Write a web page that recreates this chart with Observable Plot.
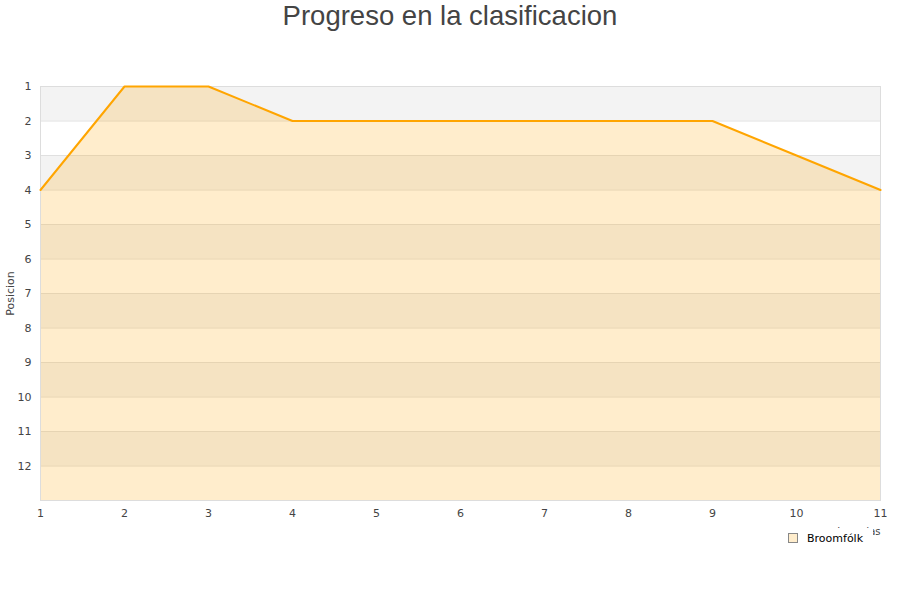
<!DOCTYPE html>
<html>
<head>
<meta charset="utf-8">
<script src="https://cdn.jsdelivr.net/npm/d3@7"></script>
<script src="https://cdn.jsdelivr.net/npm/@observablehq/plot@0.6"></script>
<style>
  body { margin: 0; background: #fff; }
  #wrap { position: relative; width: 900px; height: 600px; font-family: "DejaVu Sans", sans-serif; }
  #title { position: absolute; top: 0; left: 0; width: 900px; text-align: center; font-family: "Liberation Sans", Arial, sans-serif; font-size: 27.5px; color: #444; line-height: 32px; }
  #legend { position: absolute; left: 783px; top: 528px; width: 90px; height: 20px; background: #fff; font-size: 11px; color: #000; display: flex; align-items: center; }
  #legend .sw { width: 8px; height: 8px; background: #ffedcc; border: 1px solid #888; margin-left: 5px; margin-right: 9px; }
</style>
</head>
<body>
<div id="wrap">
  <div id="title">Progreso en la clasificacion</div>
  <div id="chart"></div>
  <div id="legend"><span class="sw"></span><span>Broomfólk</span></div>
</div>
<script>
const jornadas = [1, 2, 3, 4, 5, 6, 7, 8, 9, 10, 11];
const posiciones = [4, 1, 1, 2, 2, 2, 2, 2, 2, 3, 4];
const yTicks = [1, 2, 3, 4, 5, 6, 7, 8, 9, 10, 11, 12];
const team = "Broomfólk";
const xLabel = "Jornadas";
const yLabel = "Posicion";

const data = jornadas.map((j, i) => ({ j, pos: posiciones[i] }));
const bands = yTicks.filter(t => t % 2 === 1).map(t => ({ y1: t, y2: t + 1 }));

const chart = Plot.plot({
  width: 900,
  height: 600,
  marginTop: 86,
  marginLeft: 40,
  marginRight: 20,
  marginBottom: 100,
  style: { fontFamily: "DejaVu Sans, sans-serif", fontSize: "11px", color: "#444", background: "transparent" },
  x: { domain: [1, 11] },
  y: { domain: [1, 13], reverse: true },
  marks: [
    Plot.rect(bands, { x1: 1, x2: 11, y1: "y1", y2: "y2", fill: "#f3f3f3" }),
    Plot.ruleY(yTicks.slice(1), { stroke: "#e0e0e0" }),
    Plot.areaY(data, { x: "j", y1: 13, y2: "pos", fill: "#ffa500", fillOpacity: 0.2 }),
    Plot.frame({ stroke: "#dddddd" }),
    Plot.lineY(data, { x: "j", y: "pos", stroke: "#ffa500", strokeWidth: 2 }),
    Plot.axisY({ ticks: yTicks, tickSize: 0, tickPadding: 9, tickFormat: d => String(d), label: yLabel, labelAnchor: "center", labelArrow: "none", labelOffset: 34, fontSize: 11 }),
    Plot.axisX({ ticks: jornadas, tickSize: 0, tickPadding: 9, tickFormat: d => String(d), label: null, fontSize: 11 }),
    Plot.text([xLabel], { x: 11, y: 13, text: d => d, dy: 31, textAnchor: "end", fontSize: 10, fill: "#444" })
  ]
});
document.getElementById("chart").appendChild(chart);
</script>
</body>
</html>
